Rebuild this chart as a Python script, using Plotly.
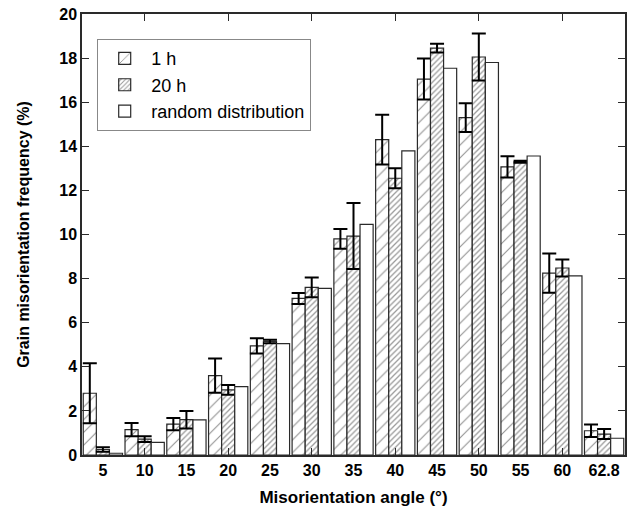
import plotly.graph_objects as go

categories = ["5", "10", "15", "20", "25", "30", "35", "40", "45", "50", "55", "60", "62.8"]
h1_vals = [2.8, 1.15, 1.4, 3.6, 4.95, 7.1, 9.8, 14.3, 17.05, 15.3, 13.07, 8.25, 1.1]
h1_err = [1.36, 0.3, 0.28, 0.78, 0.35, 0.25, 0.45, 1.13, 0.93, 0.65, 0.48, 0.89, 0.28]
h20_vals = [0.25, 0.72, 1.6, 2.95, 5.15, 7.6, 9.93, 12.55, 18.45, 18.05, 13.3, 8.48, 0.95]
h20_err = [0.1, 0.13, 0.4, 0.22, 0.08, 0.45, 1.5, 0.45, 0.2, 1.07, 0.05, 0.39, 0.23]
random_vals = [0.08, 0.57, 1.59, 3.1, 5.05, 7.56, 10.46, 13.79, 17.54, 17.8, 13.56, 8.12, 0.76]
series_names = ["1 h", "20 h", "random distribution"]
y_ticks = [0, 2, 4, 6, 8, 10, 12, 14, 16, 18, 20]

xpos = list(range(len(categories)))
top_tick_pos = [i for i in xpos if i % 2 == 1]

font_family = "Liberation Sans, Arial, sans-serif"
line_col = "#2a2a2a"

fig = go.Figure()
fig.add_trace(go.Bar(
    x=xpos, y=h1_vals, name=series_names[0],
    marker=dict(color="white", line=dict(color=line_col, width=1.2),
                pattern=dict(shape="/", size=9, solidity=0.12, fgcolor="#222", bgcolor="white")),
    error_y=dict(type="data", array=h1_err, color="black", thickness=2, width=7),
))
fig.add_trace(go.Bar(
    x=xpos, y=h20_vals, name=series_names[1],
    marker=dict(color="white", line=dict(color=line_col, width=1.2),
                pattern=dict(shape="/", size=4, solidity=0.32, fgcolor="#333", bgcolor="white")),
    error_y=dict(type="data", array=h20_err, color="black", thickness=2, width=7),
))
fig.add_trace(go.Bar(
    x=xpos, y=random_vals, name=series_names[2],
    marker=dict(color="white", line=dict(color=line_col, width=1.2)),
))
# invisible trace to carry the tick-only overlay axis
fig.add_trace(go.Scatter(x=[xpos[0]], y=[0], xaxis="x2", mode="markers",
                         marker=dict(opacity=0), showlegend=False, hoverinfo="skip"))

fig.update_layout(
    width=636, height=517,
    margin=dict(l=82, r=11, t=14, b=62),
    paper_bgcolor="white", plot_bgcolor="white",
    barmode="group", bargap=0.06, bargroupgap=0,
    font=dict(family=font_family, color="black"),
    xaxis=dict(
        range=[-0.5, len(categories) - 0.5], automargin=False,
        tickvals=xpos, ticktext=categories, ticks="",
        tickfont=dict(size=16, family=font_family, weight="bold"),
        showline=True, linecolor=line_col, linewidth=1.5, mirror=True,
        showgrid=False, zeroline=False,
        title=dict(text="Misorientation angle (°)", font=dict(size=17, weight="bold"), standoff=13),
    ),
    xaxis2=dict(
        overlaying="x", matches="x", side="bottom", automargin=False,
        tickvals=top_tick_pos, ticks="inside", ticklen=7, tickwidth=1.2, tickcolor=line_col,
        showticklabels=False, mirror="ticks", showline=False, showgrid=False, zeroline=False,
    ),
    yaxis=dict(
        range=[0, 20], tickvals=y_ticks, ticks="inside", ticklen=7, tickwidth=1.2, tickcolor=line_col,
        automargin=False,
        tickfont=dict(size=16, family=font_family, weight="bold"),
        showline=True, linecolor=line_col, linewidth=1.5, mirror="ticks",
        showgrid=False, zeroline=False,
        title=dict(text="Grain misorientation frequency (%)", font=dict(size=16, weight="bold"), standoff=26),
    ),
    legend=dict(
        x=0.028, y=0.943, xanchor="left", yanchor="top",
        bgcolor="white", bordercolor="#888", borderwidth=1,
        font=dict(size=18, family=font_family),
        tracegroupgap=0, itemwidth=43,
    ),
)

fig.write_html("out.html", config={"displayModeBar": False},
               post_script="document.body.style.margin='0';")
